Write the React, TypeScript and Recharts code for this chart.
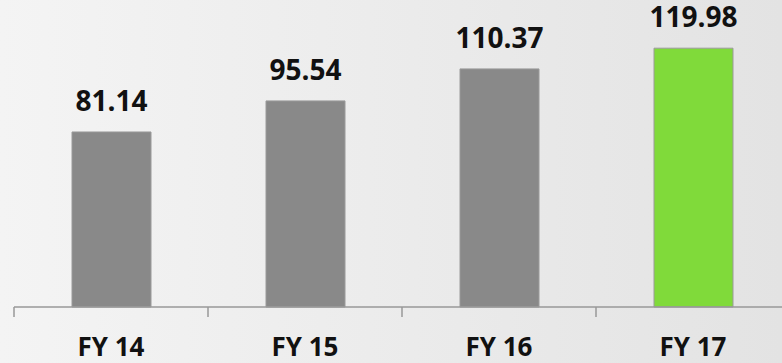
import React from 'react';
import { BarChart, Bar, XAxis, YAxis, Cell, LabelList } from 'recharts';

const categories = ['FY 14', 'FY 15', 'FY 16', 'FY 17'];
const values = [81.14, 95.54, 110.37, 119.98];
const valueLabels = ['81.14', '95.54', '110.37', '119.98'];
const colors = ['#898989', '#898989', '#898989', '#80DA3A'];

const data = categories.map((c, i) => ({ name: c, value: values[i], label: valueLabels[i] }));

const FONT = '"Open Sans", "DejaVu Sans", sans-serif';
const TICK_MARGIN = 31;
const TICK_LEN = 10;

const CustomTick = (props: any) => {
  const { x, y, payload, visibleTicksCount } = props;
  const axisY = y - TICK_MARGIN;
  const off = payload.offset || 0;
  const left = payload.coordinate - off;
  const right = payload.coordinate + off;
  const isLast = payload.index === (visibleTicksCount ?? categories.length) - 1;
  return (
    <g>
      <line x1={left} x2={left} y1={axisY} y2={axisY + TICK_LEN} stroke="#999999" strokeWidth={1.5} />
      {isLast && (
        <line x1={right} x2={right} y1={axisY} y2={axisY + TICK_LEN} stroke="#999999" strokeWidth={1.5} />
      )}
      <text
        x={x}
        y={y}
        dy="0.71em"
        textAnchor="middle"
        fontFamily={FONT}
        fontWeight={700}
        fontSize={26}
        fill="#111111"
      >
        {payload.value}
      </text>
    </g>
  );
};

export default function App() {
  return (
    <div
      style={{
        position: 'absolute',
        left: 0,
        top: 0,
        width: 782,
        height: 363,
        overflow: 'hidden',
        background: 'linear-gradient(to right, #f4f4f4, #e3e3e3)',
      }}
    >
      <BarChart
        width={800}
        height={363}
        data={data}
        margin={{ top: 5, right: 10, left: 14, bottom: 0 }}
      >
        <YAxis hide domain={[0, 140]} />
        <XAxis
          dataKey="name"
          height={56}
          tickLine={false}
          tickSize={0}
          tickMargin={TICK_MARGIN}
          axisLine={{ stroke: '#999999', strokeWidth: 1.5 }}
          tick={<CustomTick />}
          interval={0}
        />
        <Bar dataKey="value" barSize={79} isAnimationActive={false} stroke="#9a9a9a" strokeWidth={1}>
          {data.map((d, i) => (
            <Cell key={d.name} fill={colors[i]} />
          ))}
          <LabelList
            dataKey="label"
            position="top"
            offset={21}
            style={{ fontFamily: FONT, fontWeight: 700, fontSize: 28, fill: '#111111' }}
          />
        </Bar>
      </BarChart>
    </div>
  );
}
